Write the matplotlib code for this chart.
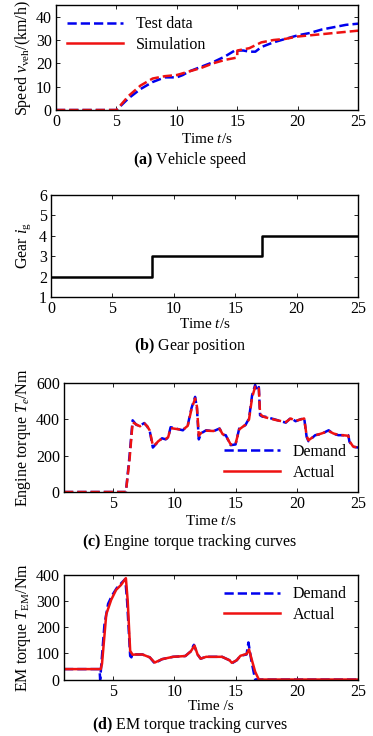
import numpy as np
import matplotlib
matplotlib.use("Agg")
import matplotlib.pyplot as plt
from matplotlib.lines import Line2D

plt.rcParams['font.family'] = ['Liberation Serif', 'DejaVu Serif']
plt.rcParams['mathtext.fontset'] = 'custom'
plt.rcParams['mathtext.rm'] = 'Liberation Serif'
plt.rcParams['mathtext.it'] = 'Liberation Serif:italic'
plt.rcParams['mathtext.bf'] = 'Liberation Serif:bold'
plt.rcParams['font.size'] = 11.5

# (a) vehicle speed
spd_t_test = [0, 5, 6, 7, 8, 9, 10, 10.5, 11, 12, 13, 14, 14.8, 15.5, 16, 16.5, 17, 18, 19, 20, 21, 22, 23, 24, 25]
spd_test = [0, 0, 5, 9, 12, 14, 14, 15, 16.5, 18.5, 20.5, 23, 25.5, 25.5, 25, 25, 27, 29, 30.5, 32, 33, 34.5, 35.5, 36.5, 37]
spd_t_sim = [0, 5, 6, 7, 8, 9, 10, 11, 12, 13, 14, 15, 15.01, 16, 17, 18, 19, 20, 21, 22, 23, 24, 25]
spd_sim = [0, 0, 6, 10.5, 13.5, 14.5, 15, 16.5, 18, 20, 21.5, 22.5, 25.5, 26.5, 29, 30, 30.5, 31.5, 32, 32.5, 33, 33.5, 34]

# (b) gear position
gear_t = [0, 8.2, 8.2, 17.2, 17.2, 25]
gear = [2, 2, 3, 3, 4, 4]

# (c) engine torque
eng_t = [1, 6.05, 6.35, 6.6, 6.9, 7.2, 7.55, 7.8, 8.0, 8.25, 8.45, 8.7, 9.0, 9.3, 9.5, 9.7,
         10.1, 10.7, 11.1, 11.4, 11.7, 11.85, 12.0, 12.2, 12.6, 13.2, 13.7, 13.95, 14.2, 14.6,
         15.0, 15.3, 15.8, 16.1, 16.35, 16.6, 16.75, 16.9, 17.0, 17.2, 17.4, 18.2, 19.1, 19.5,
         19.9, 20.6, 20.8, 20.95, 21.5, 22.0, 22.6, 23.0, 23.4, 24.2, 24.3, 24.6, 25]
eng_dem = [0, 0, 200, 395, 370, 365, 380, 360, 335, 245, 260, 278, 296, 290, 300, 357,
           350, 340, 368, 461, 524, 460, 290, 324, 340, 335, 350, 315, 313, 258,
           262, 350, 368, 405, 533, 590, 560, 578, 423, 415, 415, 400, 382, 408,
           390, 408, 304, 280, 313, 320, 340, 320, 313, 313, 276, 249, 245]
eng_act = [0, 0, 180, 385, 372, 362, 378, 362, 338, 255, 262, 280, 295, 292, 302, 352,
           348, 342, 365, 455, 515, 470, 310, 326, 338, 336, 348, 318, 312, 262,
           265, 345, 370, 400, 520, 580, 565, 570, 430, 418, 412, 398, 385, 405,
           392, 405, 310, 285, 312, 322, 336, 322, 315, 310, 280, 250, 245]

# (d) EM torque
em_t_dem = [1, 3.9, 3.95, 4.3, 4.6, 4.9, 5.3, 5.7, 6.0, 6.15, 6.4, 6.5, 6.6, 6.9, 7.4, 8.0, 8.4, 9.0,
            9.9, 10.9, 11.35, 11.6, 11.9, 12.15, 12.6, 13.9, 14.5, 14.7, 15.1, 15.4, 15.9, 16.05,
            16.3, 16.6, 25]
em_dem = [40, 40, 0, 210, 290, 320, 350, 370, 385, 300, 90, 85, 100, 96, 96, 85, 62, 78,
          87, 90, 108, 133, 96, 80, 87, 87, 74, 62, 74, 91, 96, 142, 70, 0, 0]
em_t_act = [1, 4.0, 4.1, 4.45, 4.85, 5.25, 5.65, 6.05, 6.2, 6.4, 6.6, 6.9, 7.4, 8.0, 8.4, 9.0,
            9.9, 10.9, 11.35, 11.65, 11.9, 12.15, 12.6, 13.9, 14.5, 14.7, 15.1, 15.4, 15.9,
            16.1, 16.3, 16.6, 16.9, 25]
em_act = [40, 40, 60, 250, 305, 343, 362, 388, 300, 110, 95, 96, 96, 85, 65, 78,
          87, 90, 108, 130, 96, 80, 87, 87, 74, 64, 74, 91, 98, 115, 80, 30, 0, 0]

blue = '#0000ee'
red = '#ee1111'
lw = 1.8

fig = plt.figure(figsize=(3.73, 7.36), dpi=100)
ax1 = fig.add_axes([0.150, 0.8505, 0.810, 0.1427])
ax2 = fig.add_axes([0.137, 0.5965, 0.823, 0.1386])
ax3 = fig.add_axes([0.1716, 0.3315, 0.7884, 0.148])
ax4 = fig.add_axes([0.1716, 0.0767, 0.7884, 0.142])

for ax in (ax1, ax2, ax3, ax4):
    ax.tick_params(direction='in', top=True, right=True, length=3, width=0.6, pad=3)
    for s in ax.spines.values():
        s.set_linewidth(1.0)

# (a)
ax1.plot(spd_t_test, spd_test, '--', color=blue, lw=lw)
ax1.plot(spd_t_sim, spd_sim, '--', color=red, lw=lw)
ax1.set_xlim(0, 25)
ax1.set_ylim(0, 45)
ax1.set_xticks([0, 5, 10, 15, 20, 25])
ax1.set_yticks([0, 10, 20, 30, 40])
ax1.set_xlabel('Time $t$/s', labelpad=1, fontsize=11)
ax1.set_ylabel(r'Speed $v_{\mathrm{veh}}$/(km/h)', labelpad=2)
h1 = [Line2D([], [], color=blue, ls='--', lw=lw), Line2D([], [], color=red, lw=lw)]
ax1.legend(h1, ['Test data', 'Simulation'], loc='upper left', frameon=False,
           handlelength=3.5, borderaxespad=0.3, labelspacing=0.3)
fig.text(0.51, 0.7826, r'$\mathbf{(a)}$ Vehicle speed', ha='center', va='center', fontsize=11.5)

# (b)
ax2.plot(gear_t, gear, color='black', lw=lw)
ax2.set_xlim(0, 25)
ax2.set_ylim(1, 6)
ax2.set_xticks([0, 5, 10, 15, 20, 25])
ax2.set_yticks([1, 2, 3, 4, 5, 6])
ax2.set_xlabel('Time $t$/s', labelpad=0, fontsize=11)
ax2.set_ylabel(r'Gear $i_{\mathrm{g}}$', labelpad=4)
fig.text(0.51, 0.530, r'$\mathbf{(b)}$ Gear position', ha='center', va='center', fontsize=11.5)

# (c)
ax3.plot(eng_t, eng_dem, '--', color=blue, lw=lw)
ax3.plot(eng_t, eng_act, '--', color=red, lw=lw)
ax3.set_xlim(1, 25)
ax3.set_ylim(0, 600)
ax3.set_xticks([5, 10, 15, 20, 25])
ax3.set_yticks([0, 200, 400, 600])
ax3.set_xlabel('Time $t$/s', labelpad=1, fontsize=11)
ax3.set_ylabel(r'Engine torque $T_e$/Nm', labelpad=2)
h3 = [Line2D([], [], color=blue, ls='--', lw=lw), Line2D([], [], color=red, lw=lw)]
ax3.legend(h3, ['Demand', 'Actual'], loc='lower right', frameon=False,
           handlelength=3.5, borderaxespad=0.3, labelspacing=0.3)
fig.text(0.51, 0.2636, r'$\mathbf{(c)}$ Engine torque tracking curves', ha='center', va='center', fontsize=11.5)

# (d)
ax4.plot(em_t_dem, em_dem, '--', color=blue, lw=lw)
ax4.plot(em_t_act, em_act, '-', color=red, lw=lw)
ax4.set_xlim(1, 25)
ax4.set_ylim(0, 400)
ax4.set_xticks([5, 10, 15, 20, 25])
ax4.set_yticks([0, 100, 200, 300, 400])
ax4.set_xlabel('Time /s', labelpad=0, fontsize=11)
ax4.set_ylabel(r'EM torque $T_{\mathrm{EM}}$/Nm', labelpad=2)
h4 = [Line2D([], [], color=blue, ls='--', lw=lw), Line2D([], [], color=red, lw=lw)]
ax4.legend(h4, ['Demand', 'Actual'], loc='upper right', frameon=False,
           handlelength=3.5, borderaxespad=0.3, labelspacing=0.3)
fig.text(0.51, 0.0155, r'$\mathbf{(d)}$ EM torque tracking curves', ha='center', va='center', fontsize=11.5)

fig.savefig('out.png', dpi=100)
